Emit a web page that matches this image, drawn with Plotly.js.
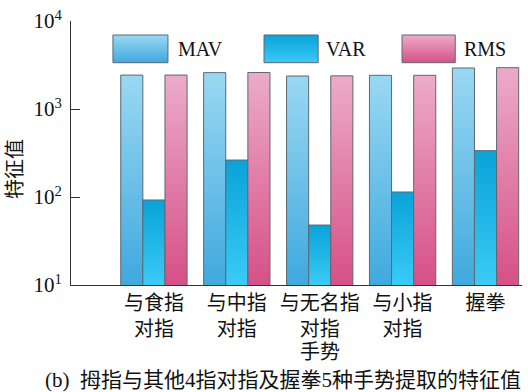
<!DOCTYPE html>
<html>
<head>
<meta charset="utf-8">
<script src="https://cdn.plot.ly/plotly-3.0.1.min.js"></script>
<style>
  html, body { margin: 0; padding: 0; background: #fff; }
  #chart { width: 528px; height: 392px; }
</style>
</head>
<body>
<div id="chart"></div>
<script>
// Gesture categories (thumb opposed to each finger, plus fist)
const gestures = ['与食指<br>对指', '与中指<br>对指', '与无名指<br>对指', '与小指<br>对指', '握拳'];
// Feature values per gesture
const mav = [2430, 2590, 2370, 2415, 2925];
const vr  = [92.5, 263, 48, 114, 336];
const rms = [2430, 2600, 2380, 2415, 2950];
const seriesNames = ['MAV', 'VAR', 'RMS'];
const yTickVals = [10, 100, 1000, 10000];
const yTickText = ['10<sup>1</sup>', '10<sup>2</sup>', '10<sup>3</sup>', '10<sup>4</sup>'];

// top/bottom gradient colours for each series
const gradients = {
  MAV: ['#9ad8f2', '#3fa9de'],
  VAR: ['#0aa2d8', '#3acbf7'],
  RMS: ['#ecabc9', '#d65087']
};

const FONT = '"Liberation Serif", "Times New Roman", "Noto Sans CJK SC", serif';
const outline = { color: '#5e6870', width: 1 };

const traces = [mav, vr, rms].map((vals, i) => ({
  type: 'bar',
  name: seriesNames[i],
  x: gestures,
  y: vals,
  marker: { color: gradients[seriesNames[i]][1], line: outline },
  showlegend: false,
  hoverinfo: 'skip'
}));

// Legend built from paper-space swatches and labels
const legendItems = [
  { name: 'MAV', x0: 0.093, x1: 0.215, tx: 0.232 },
  { name: 'VAR', x0: 0.428, x1: 0.548, tx: 0.562 },
  { name: 'RMS', x0: 0.734, x1: 0.852, tx: 0.868 }
];
const shapes = legendItems.map(it => ({
  type: 'rect', xref: 'paper', yref: 'paper',
  x0: it.x0, x1: it.x1, y0: 0.842, y1: 0.947,
  fillcolor: gradients[it.name][1],
  line: outline
}));
const annotations = legendItems.map(it => ({
  xref: 'paper', yref: 'paper', x: it.tx, y: 0.893,
  xanchor: 'left', yanchor: 'middle', showarrow: false,
  text: it.name, font: { family: FONT, size: 20, color: '#111' }
}));
annotations.push({
  xref: 'x', yref: 'paper', x: 2, y: -0.255,
  xanchor: 'center', yanchor: 'middle', showarrow: false,
  text: '手势', font: { family: FONT, size: 20, color: '#111' }
});
annotations.push({
  xref: 'paper', yref: 'paper', x: 0.469, y: -0.36,
  xanchor: 'center', yanchor: 'middle', showarrow: false,
  text: '(b)  拇指与其他4指对指及握拳5种手势提取的特征值',
  font: { family: FONT, size: 21, color: '#111' }
});
annotations.push({
  xref: 'paper', yref: 'paper', x: -0.124, y: 0.44,
  xanchor: 'center', yanchor: 'middle', showarrow: false, textangle: -90,
  text: '特征值', font: { family: FONT, size: 20, color: '#111' }
});

const layout = {
  width: 528, height: 392,
  margin: { l: 71, r: 6, t: 21, b: 107 },
  paper_bgcolor: '#fff', plot_bgcolor: '#fff',
  barmode: 'group', bargap: 0.2, bargroupgap: 0,
  font: { family: FONT, size: 20, color: '#111' },
  xaxis: {
    type: 'category', range: [-1.0, 4.44],
    showline: true, linecolor: '#333', linewidth: 1,
    ticks: '', showgrid: false, zeroline: false,
    tickfont: { family: FONT, size: 20, color: '#111' }
  },
  yaxis: {
    type: 'log', range: [1, 4],
    showline: true, linecolor: '#333', linewidth: 1,
    ticks: 'inside', ticklen: 9, tickcolor: '#333',
    tickmode: 'array', tickvals: yTickVals, ticktext: yTickText,
    showgrid: false, zeroline: false,
    ticklabelstandoff: 4,
    tickfont: { family: FONT, size: 21, color: '#111' }
  },
  shapes: shapes,
  annotations: annotations
};

const NS = 'http://www.w3.org/2000/svg';

function makeGradient(defs, id, colors, units, yTop, yBottom) {
  const g = document.createElementNS(NS, 'linearGradient');
  g.setAttribute('id', id);
  g.setAttribute('gradientUnits', units);
  g.setAttribute('x1', '0'); g.setAttribute('x2', '0');
  g.setAttribute('y1', String(yTop)); g.setAttribute('y2', String(yBottom));
  colors.forEach((c, j) => {
    const s = document.createElementNS(NS, 'stop');
    s.setAttribute('offset', j === 0 ? '0' : '1');
    s.setAttribute('stop-color', c);
    g.appendChild(s);
  });
  defs.appendChild(g);
}

Plotly.newPlot('chart', traces, layout, { staticPlot: true, displayModeBar: false }).then(gd => {
  // vertical gradient fills: bars run from their top down to the x axis
  const svg = gd.querySelector('svg.main-svg');
  let defs = svg.querySelector('defs');
  if (!defs) { defs = document.createElementNS(NS, 'defs'); svg.insertBefore(defs, svg.firstChild); }
  const plotBottom = gd._fullLayout.yaxis._length;

  gd.querySelectorAll('.trace.bars').forEach((tr, i) => {
    const name = seriesNames[i];
    tr.querySelectorAll('.point path').forEach((p, j) => {
      const box = p.getBBox();
      const id = 'grad-' + name + '-' + j;
      makeGradient(defs, id, gradients[name], 'userSpaceOnUse', box.y, plotBottom);
      p.style.fill = 'url(#' + id + ')';
    });
  });

  Object.keys(gradients).forEach(k => {
    makeGradient(defs, 'swatch-' + k, gradients[k], 'objectBoundingBox', 0, 1);
  });
  gd.querySelectorAll('.shapelayer path').forEach(p => {
    const idx = +p.getAttribute('data-index');
    if (legendItems[idx]) p.style.fill = 'url(#swatch-' + legendItems[idx].name + ')';
  });
});
</script>
</body>
</html>
